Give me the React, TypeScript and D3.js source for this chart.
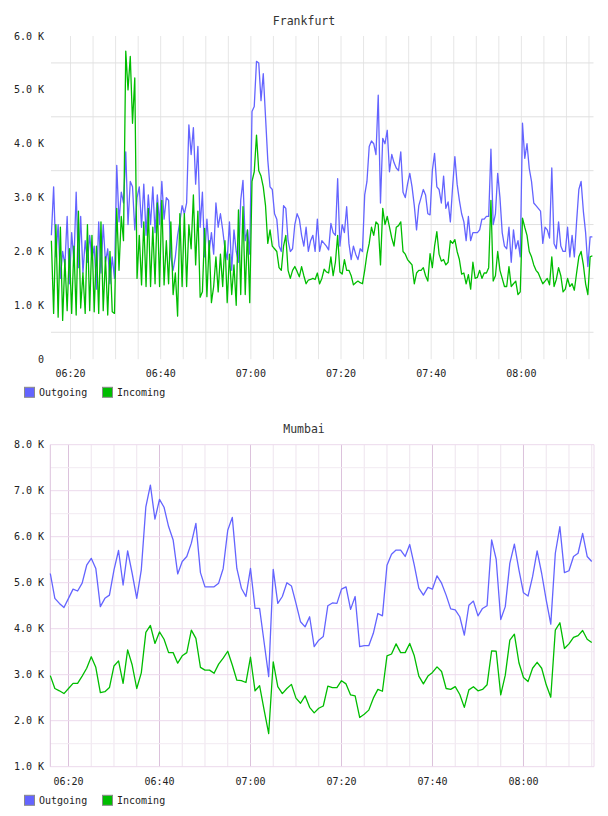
import React from "react";
import * as d3 from "d3";

// Frankfurt: 30 s samples from 06:15:45, values in thousands
const frankfurtOut = [
  2.3, 3.2, 1.9, 2.5, 1.5, 2.0, 1.75, 2.65, 1.4, 2.35,
  1.8, 3.1, 1.7, 2.65, 1.6, 2.2, 1.8, 2.3, 1.85, 2.1,
  1.3, 2.55, 1.6, 2.5, 1.8, 2.05, 1.4, 1.9, 1.5, 3.6,
  2.55, 3.1, 2.9, 3.85, 2.5, 3.3, 3.2, 2.4, 3.0, 3.2,
  2.45, 3.25, 2.3, 3.05, 2.5, 3.2, 2.35, 3.05, 2.5, 3.3,
  2.6, 3.0, 2.95, 1.9, 1.65, 1.9, 2.3, 2.55, 2.85, 2.7,
  2.9, 4.35, 3.8, 4.3, 3.25, 3.95, 2.45, 3.1, 1.9, 2.6,
  2.0, 2.35, 1.95, 2.9, 2.45, 2.7, 2.4, 2.05, 1.85, 2.55,
  1.65, 2.4, 2.0, 1.8, 2.95, 3.32, 2.2, 2.4, 1.95, 4.6,
  4.69, 5.53, 5.5, 4.8, 5.3, 4.5, 3.7, 3.2, 3.15, 2.7,
  2.6, 2.1, 2.0, 2.85, 2.8, 2.2, 2.0, 2.05, 2.5, 2.7,
  2.6, 2.3, 2.1, 2.45, 2.0, 2.2, 2.3, 2.0, 2.6, 2.0,
  2.2, 2.15, 2.1, 2.03, 2.52, 2.35, 2.3, 3.35, 2.1, 2.5,
  2.35, 2.83, 2.15, 1.85, 2.1, 1.95, 1.85, 2.05, 2.0, 3.05,
  3.3, 3.95, 4.05, 4.0, 3.8, 4.9, 2.9, 4.1, 4.0, 4.25,
  3.48, 3.8, 3.65, 3.55, 3.5, 3.85, 3.1, 3.0, 3.25, 3.45,
  3.2, 2.85, 2.4, 2.85, 3.0, 3.15, 3.05, 2.7, 2.68, 3.5,
  3.82, 3.2, 3.15, 2.9, 3.4, 2.8, 2.92, 2.55, 3.2, 3.76,
  3.25, 2.95, 2.7, 2.55, 2.2, 2.65, 2.2, 2.35, 2.35, 2.35,
  2.4, 2.6, 2.6, 2.65, 2.65, 3.9, 2.5, 2.7, 3.45, 3.0,
  2.35, 2.1, 2.05, 2.45, 1.8, 2.4, 2.05, 2.2, 1.9, 4.38,
  3.73, 4.0, 3.54, 3.3, 2.9, 2.85, 2.8, 2.75, 2.15, 2.45,
  2.4, 2.25, 3.55, 2.15, 2.05, 2.55, 2.1, 2.0, 2.0, 2.45,
  1.9, 2.3, 1.9, 2.55, 3.15, 3.3, 2.75, 2.35, 1.72, 2.27, 2.27,
];
const frankfurtIn = [
  2.2, 0.85, 2.5, 0.78, 2.45, 0.72, 1.85, 0.9, 2.05, 0.85,
  2.1, 0.82, 2.75, 0.95, 1.6, 0.85, 2.5, 0.9, 2.3, 0.88,
  2.1, 0.85, 2.55, 0.9, 1.9, 0.82, 2.0, 0.88, 0.85, 2.8,
  1.65, 2.65, 2.2, 5.72, 5.0, 5.62, 4.38, 5.22, 1.5, 2.3,
  1.38, 2.55, 1.35, 2.8, 1.35, 2.45, 1.4, 2.9, 1.35, 2.95,
  1.38, 2.2, 1.4, 2.55, 1.2, 1.6, 0.8, 2.7, 1.35, 2.7,
  1.35, 2.5, 2.05, 3.05, 1.75, 2.75, 1.15, 1.25, 2.43, 1.16,
  2.2, 1.05, 1.35, 1.9, 1.25, 1.95, 1.35, 2.2, 1.05, 1.95,
  1.2, 1.75, 1.0, 2.77, 1.2, 2.83, 1.2, 2.4, 1.05, 3.3,
  3.48, 4.16, 3.5, 3.4, 3.2, 2.85, 2.15, 2.4, 2.1, 2.05,
  2.0, 1.7, 1.65, 2.1, 2.3, 1.65, 1.5, 1.65, 1.72, 1.63,
  1.53, 1.72, 1.55, 1.4, 1.47, 1.48, 1.5, 1.48, 1.6, 1.4,
  1.5, 1.67, 1.62, 1.6, 1.9, 1.55, 1.8, 2.3, 1.62, 1.58,
  1.85, 1.65, 1.65, 1.55, 1.38, 1.42, 1.45, 1.42, 1.4, 1.65,
  1.95, 2.15, 2.45, 2.3, 2.55, 2.5, 1.75, 2.8, 2.5, 2.65,
  2.45, 2.25, 2.1, 2.45, 2.48, 2.55, 2.0, 1.95, 1.85, 1.8,
  1.75, 1.4, 1.6, 1.65, 1.65, 1.7, 1.55, 1.45, 1.96, 1.7,
  2.1, 2.37, 1.95, 1.82, 1.85, 1.75, 1.8, 2.2, 2.15, 2.22,
  2.0, 1.85, 1.58, 1.6, 1.4, 1.57, 1.3, 1.8, 1.5, 1.52,
  1.65, 1.5, 1.6, 1.6, 1.7, 2.95, 1.45, 1.55, 2.0, 1.65,
  1.5, 1.35, 1.35, 1.72, 1.35, 1.4, 1.45, 1.2, 1.25, 2.62,
  2.45, 2.3, 2.0, 1.9, 1.75, 1.65, 1.6, 1.5, 1.4, 1.45,
  1.5, 1.38, 1.9, 1.35, 1.48, 1.7, 1.55, 1.25, 1.3, 1.5,
  1.35, 1.4, 1.28, 1.6, 1.9, 2.0, 1.75, 1.4, 1.2, 1.9, 1.92,
];

// Mumbai: 1 min samples from 06:16, values in thousands
const mumbaiOut = [
  5.2, 4.66, 4.55, 4.46, 4.66, 4.86, 4.82, 4.99, 5.38, 5.53,
  5.31, 4.48, 4.66, 4.73, 5.28, 5.7, 4.95, 5.69, 5.2, 4.66,
  5.28, 6.65, 7.12, 6.38, 6.81, 6.64, 6.22, 5.93, 5.19, 5.46,
  5.57, 5.86, 6.29, 5.22, 4.91, 4.91, 4.91, 4.99, 5.31, 6.14,
  6.42, 5.31, 4.88, 4.7, 5.31, 4.44, 4.44, 3.7, 2.96, 5.29,
  4.55, 4.7, 5.0, 4.93, 4.55, 4.15, 4.04, 4.26, 3.61, 3.75,
  3.83, 4.5, 4.56, 4.55, 4.86, 4.91, 4.42, 4.7, 3.61, 3.63,
  3.63, 3.9, 4.33, 4.28, 5.38, 5.62, 5.71, 5.71, 5.57, 5.83,
  5.38, 4.88, 4.73, 4.9, 4.86, 5.15, 4.99, 4.73, 4.43, 4.41,
  4.26, 3.86, 4.51, 4.6, 4.28, 4.44, 4.5, 5.93, 5.51, 4.2,
  4.48, 5.42, 5.84, 5.28, 4.78, 4.71, 5.13, 5.69, 5.2, 4.62,
  4.1, 5.64, 6.22, 5.22, 5.26, 5.57, 5.64, 6.07, 5.57, 5.46,
];
const mumbaiIn = [
  2.98, 2.7, 2.65, 2.59, 2.7, 2.81, 2.81, 2.97, 3.14, 3.39,
  3.16, 2.61, 2.63, 2.72, 3.19, 3.3, 2.81, 3.54, 3.21, 2.7,
  3.04, 3.92, 4.07, 3.68, 3.93, 3.77, 3.48, 3.48, 3.25, 3.41,
  3.48, 3.97, 3.79, 3.16, 3.1, 3.1, 3.03, 3.23, 3.36, 3.51,
  3.21, 2.88, 2.87, 2.83, 3.38, 2.65, 2.76, 2.23, 1.72, 3.28,
  2.74, 2.59, 2.7, 2.79, 2.49, 2.38, 2.54, 2.29, 2.17, 2.27,
  2.32, 2.75, 2.72, 2.72, 2.87, 2.8, 2.56, 2.54, 2.07, 2.14,
  2.23, 2.49, 2.68, 2.64, 3.41, 3.45, 3.67, 3.48, 3.48, 3.68,
  3.41, 2.97, 2.8, 2.97, 3.05, 3.17, 3.07, 2.7, 2.68, 2.74,
  2.57, 2.29, 2.67, 2.74, 2.65, 2.68, 2.78, 3.52, 3.51, 2.56,
  2.99, 3.75, 3.88, 3.26, 2.94, 2.85, 3.14, 3.27, 3.14, 2.78,
  2.51, 3.97, 4.13, 3.57, 3.67, 3.81, 3.85, 3.96, 3.77, 3.7,
];

const seriesNames = ["Outgoing", "Incoming"];
const seriesColors = ["#6464ff", "#00bd00"];

const day = (h: number, m: number, s = 0) => new Date(2024, 0, 1, h, m, s);
const sampleTimes = (start: Date, stepSec: number, n: number) =>
  d3.range(n).map((i) => new Date(start.getTime() + i * stepSec * 1000));

const font = "'DejaVu Sans Mono', monospace";
const fmtTime = d3.timeFormat("%H:%M");
const fmtK = (v: number) => (v === 0 ? "0" : v.toFixed(1) + " K");

interface PanelProps {
  title: string;
  titleY: number;
  box: { left: number; right: number; top: number; bottom: number };
  xDomain: [Date, Date];
  yDomain: [number, number];
  times: Date[];
  series: number[][];
  tickY: number;
  legendY: number;
  tinted: boolean;
}

const Panel = ({ title, titleY, box, xDomain, yDomain, times, series, tickY, legendY, tinted }: PanelProps) => {
  const x = d3.scaleTime().domain(xDomain).range([box.left, box.right]);
  const y = d3.scaleLinear().domain(yDomain).range([box.bottom, box.top]);
  const majors = d3.range(yDomain[0], yDomain[1] + 0.001, 1);
  const halves = d3.range(yDomain[0] + 0.5, yDomain[1], 1);
  const fiveMin = d3.timeMinute.every(5)!.range(xDomain[0], xDomain[1]);
  const labels = d3.timeMinute.every(20)!.range(xDomain[0], xDomain[1]);
  const line = d3
    .line<number>()
    .x((_, i) => x(times[i]))
    .y((d) => y(d));

  return (
    <g>
      <text x={304} y={titleY} textAnchor="middle" dominantBaseline="central"
        fontFamily={font} fontSize={11.5} fill="#333">{title}</text>

      {/* vertical grid every 5 minutes */}
      {fiveMin.map((t) => {
        const major = t.getMinutes() % 20 === 0;
        const stroke = tinted ? (major ? "#dcc2dc" : "#eee4ee") : "#e6e6e6";
        return <line key={+t} x1={x(t)} x2={x(t)} y1={box.top} y2={box.bottom} stroke={stroke} />;
      })}
      {/* horizontal grid */}
      {halves.map((v) => (
        <line key={"h" + v} x1={box.left} x2={box.right} y1={y(v)} y2={y(v)}
          stroke={tinted ? "#f2eaf2" : "#e0e0e0"} />
      ))}
      {tinted && majors.map((v) => (
        <line key={"m" + v} x1={box.left} x2={box.right} y1={y(v)} y2={y(v)} stroke="#ecd9ec" />
      ))}
      {tinted && (
        <>
          <line x1={box.left} x2={box.left} y1={box.top} y2={box.bottom} stroke="#dcc2dc" />
          <line x1={box.right} x2={box.right} y1={box.top} y2={box.bottom} stroke="#ecd9ec" />
        </>
      )}

      {series.map((vals, k) => (
        <path key={k} d={line(vals) ?? ""} fill="none" stroke={seriesColors[k]}
          strokeWidth={1.3} strokeLinejoin="round" />
      ))}

      {majors.map((v) => (
        <text key={"t" + v} x={44} y={y(v)} textAnchor="end" dominantBaseline="central"
          fontFamily={font} fontSize={10} fill="#222">{fmtK(v)}</text>
      ))}
      {labels.map((t) => (
        <text key={"x" + +t} x={x(t)} y={tickY} textAnchor="middle" dominantBaseline="central"
          fontFamily={font} fontSize={10} fill="#222">{fmtTime(t)}</text>
      ))}

      {seriesNames.map((name, k) => (
        <g key={name} transform={`translate(${24.5 + k * 78},${legendY})`}>
          <rect x={0} y={-5} width={10} height={10} fill={seriesColors[k]} stroke="#8a8a8a" />
          <text x={14.5} y={0} dominantBaseline="central" fontFamily={font} fontSize={10} fill="#222">
            {name}
          </text>
        </g>
      ))}
    </g>
  );
};

export default function App() {
  const fraTimes = sampleTimes(day(6, 15, 45), 30, frankfurtOut.length);
  const bomTimes = sampleTimes(day(6, 16), 60, mumbaiOut.length);
  return (
    <svg width={608} height={816} style={{ position: "absolute", left: 0, top: 0, background: "#fff" }}>
      <Panel
        title="Frankfurt"
        titleY={20.5}
        box={{ left: 51, right: 593.5, top: 36, bottom: 359.2 }}
        xDomain={[day(6, 15, 40), day(8, 16)]}
        yDomain={[0, 6]}
        times={fraTimes}
        series={[frankfurtOut, frankfurtIn]}
        tickY={373.5}
        legendY={392.3}
        tinted={false}
      />
      <Panel
        title="Mumbai"
        titleY={429}
        box={{ left: 50.3, right: 594, top: 444.7, bottom: 766.7 }}
        xDomain={[day(6, 16), day(8, 15, 30)]}
        yDomain={[1, 8]}
        times={bomTimes}
        series={[mumbaiOut, mumbaiIn]}
        tickY={781.7}
        legendY={800.3}
        tinted={true}
      />
    </svg>
  );
}
